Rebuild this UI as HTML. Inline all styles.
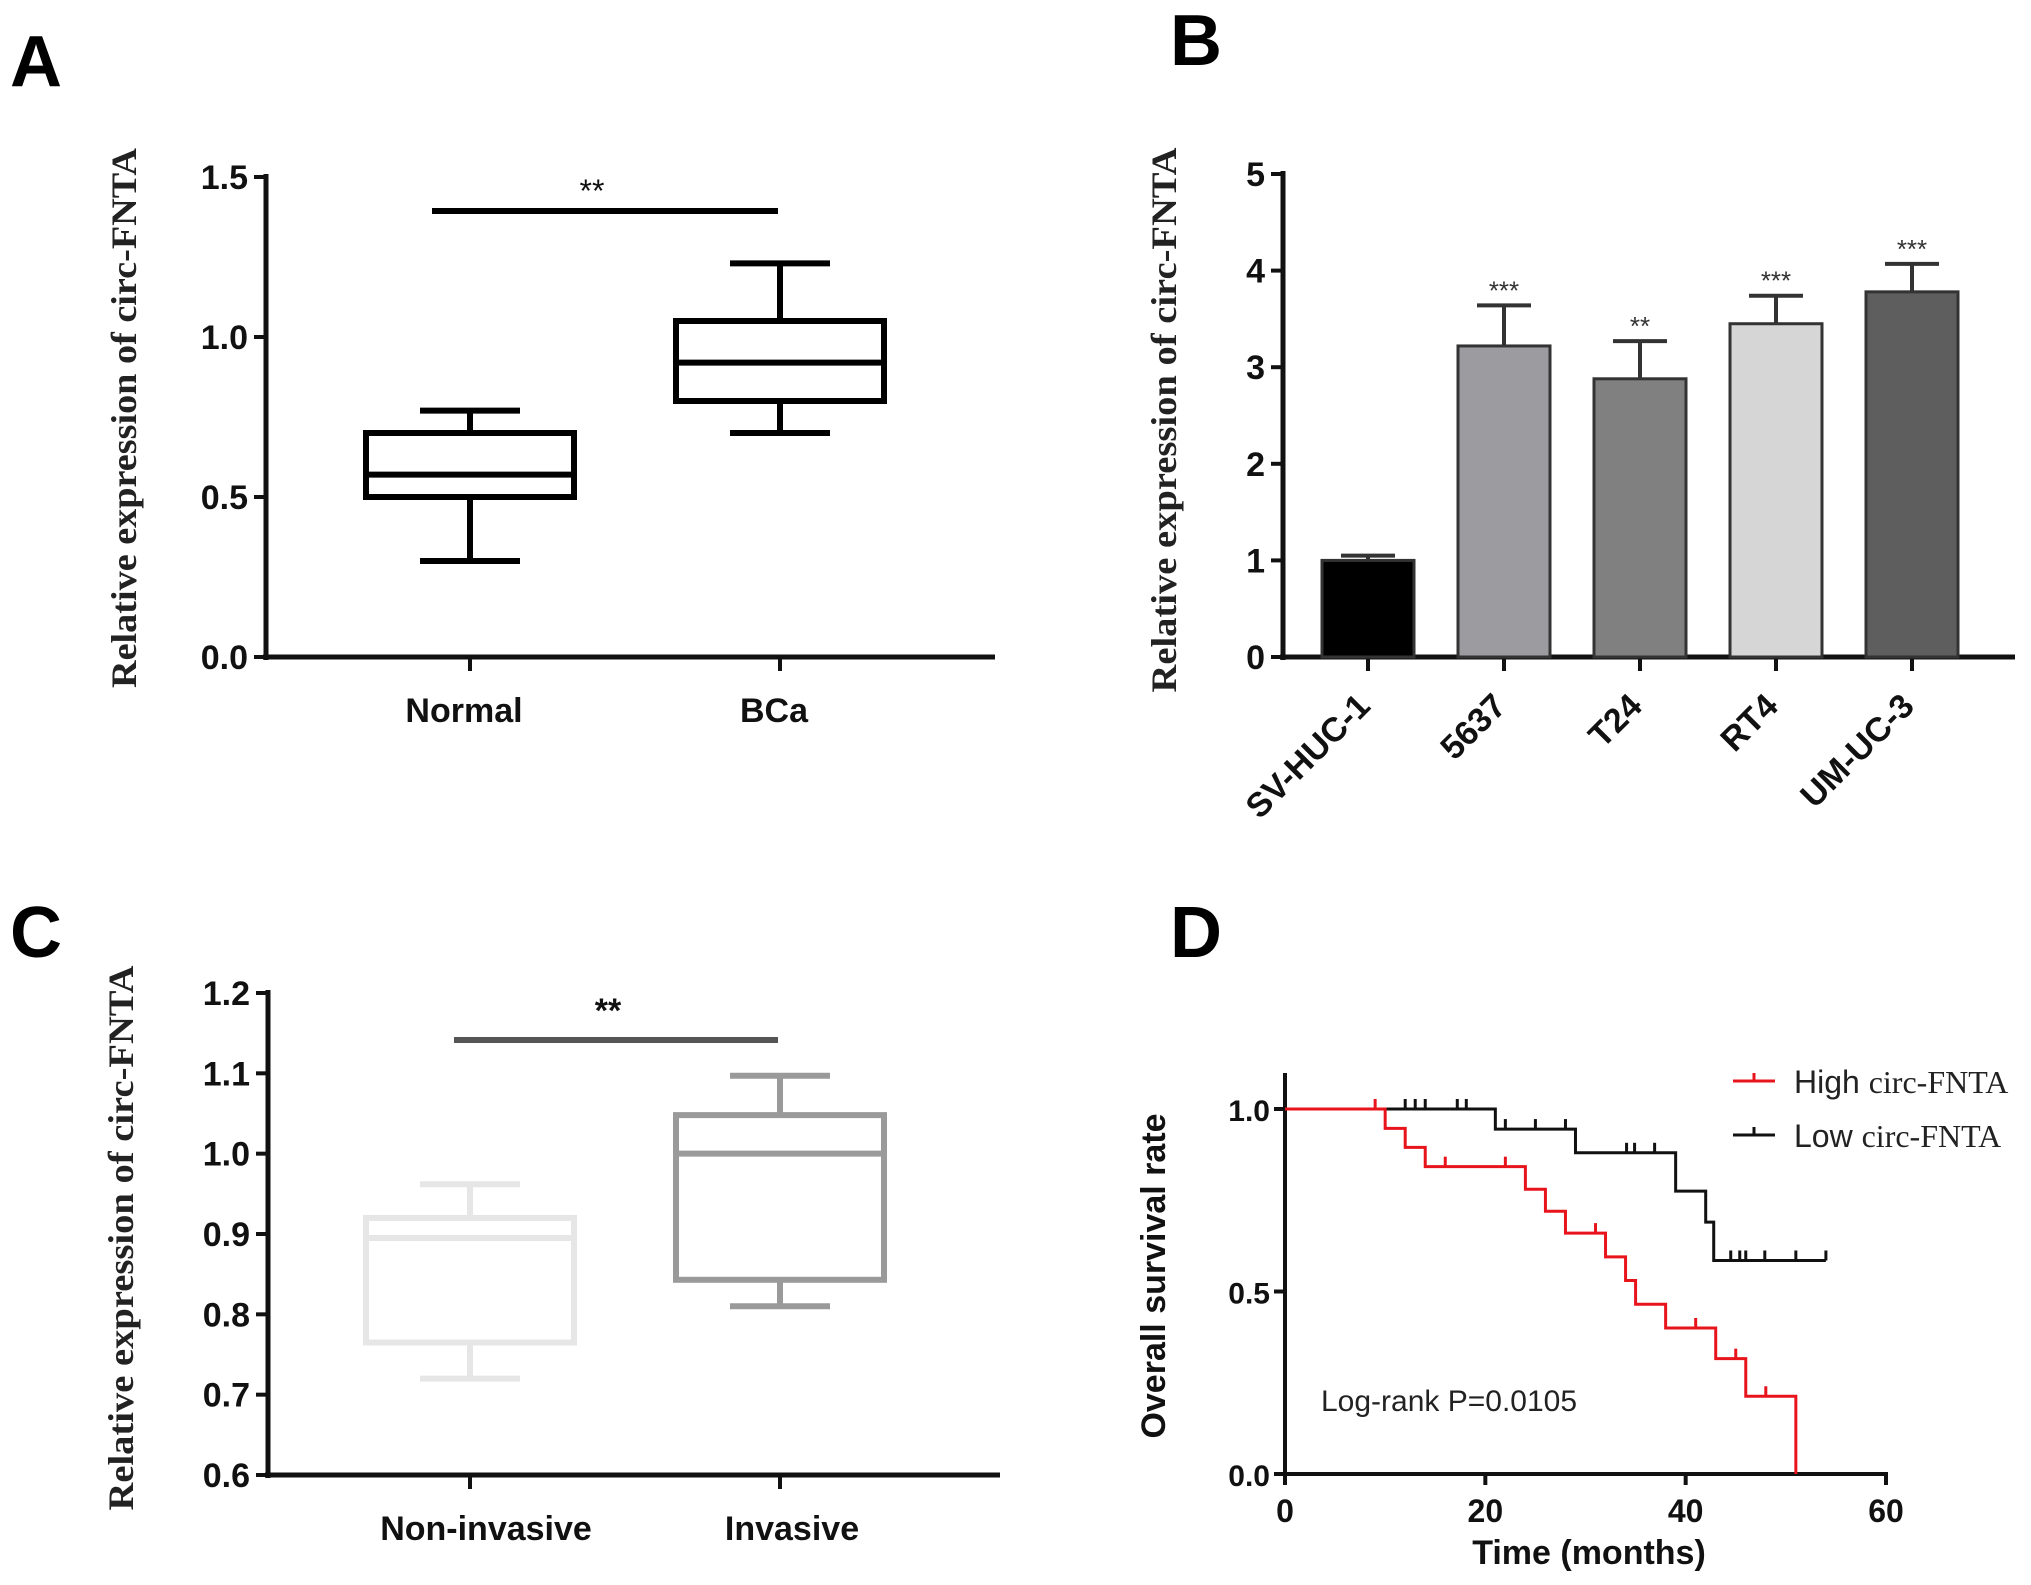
<!DOCTYPE html>
<html><head><meta charset="utf-8"><style>
html,body{margin:0;padding:0;background:#fff;}
svg{display:block;}
text{font-family:"Liberation Sans",sans-serif;}
.tick{font-size:34px;font-weight:bold;fill:#111;}
.ser{font-family:"Liberation Serif",serif;font-weight:bold;font-size:36px;fill:#222;}
.lab{font-size:72px;font-weight:bold;fill:#000;}
</style></head>
<body>
<svg id="fig" width="2031" height="1585" viewBox="0 0 2031 1585" xmlns="http://www.w3.org/2000/svg">
<text class="lab" x="10" y="86">A</text>
<text class="lab" x="1170" y="65">B</text>
<text class="lab" x="10" y="957">C</text>
<text class="lab" x="1170" y="957">D</text>
</svg>
<script>
// Panel A data
const aCats = ["Normal", "BCa"];
const aMin = [0.30, 0.70];
const aQ1 = [0.50, 0.80];
const aMed = [0.57, 0.92];
const aQ3 = [0.70, 1.05];
const aMax = [0.77, 1.23];
const aTicks = [0.0, 0.5, 1.0, 1.5];
const aTickLabels = ["0.0", "0.5", "1.0", "1.5"];
// Panel B data
const bCats = ["SV-HUC-1", "5637", "T24", "RT4", "UM-UC-3"];
const bVals = [1.0, 3.22, 2.88, 3.45, 3.78];
const bErr = [0.05, 0.42, 0.39, 0.29, 0.29];
const bStars = ["", "***", "**", "***", "***"];
const bColors = ["#000000", "#9b9ba0", "#808080", "#d6d6d6", "#5e5e5e"];
const bTicks = [0, 1, 2, 3, 4, 5];
// Panel C data
const cCats = ["Non-invasive", "Invasive"];
const cMin = [0.72, 0.81];
const cQ1 = [0.765, 0.843];
const cMed = [0.895, 1.0];
const cQ3 = [0.92, 1.048];
const cMax = [0.962, 1.097];
const cColors = ["#e6e6e6", "#9a9a9a"];
const cTicks = [0.6, 0.7, 0.8, 0.9, 1.0, 1.1, 1.2];
// Panel D data (Kaplan-Meier steps)
const highTimes = [0, 10, 12, 14, 24, 26, 28, 32, 34, 35, 38, 43, 46, 51];
const highSurv = [1.0, 0.947, 0.895, 0.842, 0.78, 0.72, 0.66, 0.595, 0.53, 0.465, 0.40, 0.316, 0.213, 0.0];
const highCensor = [9, 16, 22, 31, 41, 45, 48];
const lowTimes = [0, 21, 29, 39, 42, 42.8];
const lowSurv = [1.0, 0.945, 0.88, 0.775, 0.69, 0.585];
const lowEnd = 54;
const lowCensor = [12, 13, 14, 17.2, 18.1, 22, 25, 28, 34.1, 34.9, 36.9, 44.5, 45.4, 46, 47.9, 51, 54];
const dXTicks = [0, 20, 40, 60];
const dYTicks = [0.0, 0.5, 1.0];

const svg = document.getElementById('fig');
const NS = 'http://www.w3.org/2000/svg';
function mk(tag, attrs, text) {
  const e = document.createElementNS(NS, tag);
  for (const k in attrs) e.setAttribute(k, attrs[k]);
  if (text !== undefined) e.textContent = text;
  svg.appendChild(e);
  return e;
}
function line(x1, y1, x2, y2, stroke, w, name) {
  const e = mk('line', {x1, y1, x2, y2, stroke, 'stroke-width': w});
  
  
  return e;
}
function txt(x, y, s, cls, anchor, name, extra) {
  const e = mk('text', Object.assign({x, y, class: cls, 'text-anchor': anchor}, extra || {}), s);
  
  
  return e;
}

// ---------- Panel A ----------
const aY = v => 657 - (v - 0) / 1.5 * (657 - 177);
const aX = [470, 780];
line(266, 174, 266, 660, '#111', 5, 'a-y-axis');
line(263, 657, 995, 657, '#111', 5, 'a-x-axis');
aTicks.forEach((t, i) => {
  line(254, aY(t), 266, aY(t), '#111', 4, 'a-y-tick');
  txt(248, aY(t) + 12, aTickLabels[i], 'tick', 'end', 'a-y-tick-label');
});
aCats.forEach((c, i) => {
  const cx = aX[i], hw = 104, cw = 50, col = '#000';
  line(cx, 657, cx, 671, '#111', 4, 'a-x-tick');
  txt(cx - 6, 722, c, 'tick', 'middle', 'a-x-label');
  line(cx, aY(aMin[i]), cx, aY(aQ1[i]), col, 6, 'a-whisker-low');
  line(cx, aY(aQ3[i]), cx, aY(aMax[i]), col, 6, 'a-whisker-high');
  line(cx - cw, aY(aMin[i]), cx + cw, aY(aMin[i]), col, 6, 'a-cap-low');
  line(cx - cw, aY(aMax[i]), cx + cw, aY(aMax[i]), col, 6, 'a-cap-high');
  const r = mk('rect', {x: cx - hw, y: aY(aQ3[i]), width: 2 * hw, height: aY(aQ1[i]) - aY(aQ3[i]), fill: 'none', stroke: col, 'stroke-width': 6});
  
  
  line(cx - hw, aY(aMed[i]), cx + hw, aY(aMed[i]), col, 6, 'a-median');
});
line(432, 211, 778, 211, '#000', 6, 'a-significance-bar');
txt(592, 202, '**', 'tick', 'middle', 'a-significance-stars', {style: 'font-weight:normal;font-size:32px'});
txt(0, 0, 'Relative  expression of circ-FNTA', 'ser', 'middle', 'a-y-axis-title', {transform: 'translate(136,418) rotate(-90)', textLength: 540, lengthAdjust: 'spacingAndGlyphs'});

// ---------- Panel B ----------
const bY = v => 657 - v / 5 * (657 - 174);
const bX = i => 1368 + i * 136;
line(1283, 171, 1283, 660, '#111', 5, 'b-y-axis');
line(1280, 657, 2015, 657, '#111', 5, 'b-x-axis');
bTicks.forEach(t => {
  line(1271, bY(t), 1283, bY(t), '#111', 4, 'b-y-tick');
  txt(1265, bY(t) + 12, String(t), 'tick', 'end', 'b-y-tick-label');
});
bCats.forEach((c, i) => {
  const cx = bX(i), hw = 46;
  line(cx, 657, cx, 671, '#111', 4, 'b-x-tick');
  const top = bY(bVals[i] + bErr[i]);
  line(cx, top, cx, bY(bVals[i]), '#333', 4, 'b-error-bar');
  line(cx - 27, top, cx + 27, top, '#333', 4, 'b-error-cap');
  const r = mk('rect', {x: cx - hw, y: bY(bVals[i]), width: 2 * hw, height: 657 - bY(bVals[i]), fill: bColors[i], stroke: '#333', 'stroke-width': 3});
  
  
  if (bStars[i]) txt(cx, top - 6, bStars[i], 'tick', 'middle', 'b-significance-stars', {style: 'font-weight:normal;font-size:26px;fill:#333'});
  txt(0, 0, c, 'tick', 'end', 'b-x-label', {transform: 'translate(' + (cx + 4) + ',708) rotate(-45)'});
});
txt(0, 0, 'Relative  expression of circ-FNTA', 'ser', 'middle', 'b-y-axis-title', {transform: 'translate(1176,420) rotate(-90)', textLength: 545, lengthAdjust: 'spacingAndGlyphs'});

// ---------- Panel C ----------
const cY = v => 1475 - (v - 0.6) / 0.6 * (1475 - 993);
const cX = [470, 780];
line(268, 990, 268, 1478, '#111', 5, 'c-y-axis');
line(265, 1475, 1000, 1475, '#111', 5, 'c-x-axis');
cTicks.forEach(t => {
  line(256, cY(t), 268, cY(t), '#111', 4, 'c-y-tick');
  txt(250, cY(t) + 12, t.toFixed(1), 'tick', 'end', 'c-y-tick-label');
});
cCats.forEach((c, i) => {
  const cx = cX[i], hw = 104, cw = 50, col = cColors[i];
  line(cx, 1475, cx, 1489, '#111', 4, 'c-x-tick');
  txt(cx + (i ? 12 : 16), 1540, c, 'tick', 'middle', 'c-x-label');
  line(cx, cY(cMin[i]), cx, cY(cQ1[i]), col, 6, 'c-whisker-low');
  line(cx, cY(cQ3[i]), cx, cY(cMax[i]), col, 6, 'c-whisker-high');
  line(cx - cw, cY(cMin[i]), cx + cw, cY(cMin[i]), col, 6, 'c-cap-low');
  line(cx - cw, cY(cMax[i]), cx + cw, cY(cMax[i]), col, 6, 'c-cap-high');
  const r = mk('rect', {x: cx - hw, y: cY(cQ3[i]), width: 2 * hw, height: cY(cQ1[i]) - cY(cQ3[i]), fill: 'none', stroke: col, 'stroke-width': 6});
  
  
  line(cx - hw, cY(cMed[i]), cx + hw, cY(cMed[i]), col, 6, 'c-median');
});
line(454, 1040, 778, 1040, '#555', 6, 'c-significance-bar');
txt(608, 1022, '**', 'tick', 'middle', 'c-significance-stars', {style: 'font-size:34px'});
txt(0, 0, 'Relative  expression of circ-FNTA', 'ser', 'middle', 'c-y-axis-title', {transform: 'translate(133,1238) rotate(-90)', textLength: 545, lengthAdjust: 'spacingAndGlyphs'});

// ---------- Panel D ----------
const dX = t => 1285 + t / 60 * (1886 - 1285);
const dY = v => 1474 - v * (1474 - 1109);
line(1285, 1073, 1285, 1477, '#111', 4, 'd-y-axis');
line(1282, 1474, 1888, 1474, '#111', 4, 'd-x-axis');
dYTicks.forEach(t => {
  line(1274, dY(t), 1285, dY(t), '#111', 4, 'd-y-tick');
  txt(1270, dY(t) + 12, t.toFixed(1), 'tick', 'end', 'd-y-tick-label', {style: 'font-size:30px'});
});
dXTicks.forEach(t => {
  line(dX(t), 1474, dX(t), 1485, '#111', 4, 'd-x-tick');
  txt(dX(t), 1522, String(t), 'tick', 'middle', 'd-x-tick-label', {style: 'font-size:32px'});
});
txt(1589, 1564, 'Time (months)', 'tick', 'middle', 'd-x-axis-title');
txt(0, 0, 'Overall survival rate', 'tick', 'middle', 'd-y-axis-title', {transform: 'translate(1165,1276) rotate(-90)'});
function km(times, surv, end, color, name) {
  let d = 'M' + dX(times[0]) + ',' + dY(surv[0]);
  for (let i = 1; i < times.length; i++) {
    d += ' H' + dX(times[i]) + ' V' + dY(surv[i]);
  }
  d += ' H' + dX(end);
  const p = mk('path', {d, fill: 'none', stroke: color, 'stroke-width': 3});
  
  
}
function survAt(times, surv, t) {
  let s = surv[0];
  for (let i = 0; i < times.length; i++) if (times[i] <= t) s = surv[i];
  return s;
}
km(lowTimes, lowSurv, lowEnd, '#111', 'd-low-curve');
km(highTimes, highSurv, highTimes[highTimes.length - 1], '#e8141c', 'd-high-curve');
lowCensor.forEach(t => {
  const y = dY(survAt(lowTimes, lowSurv, t));
  line(dX(t), y, dX(t), y - 10, '#111', 3, 'd-low-censor');
});
highCensor.forEach(t => {
  const y = dY(survAt(highTimes, highSurv, t));
  line(dX(t), y, dX(t), y - 10, '#e8141c', 3, 'd-high-censor');
});
// legend
line(1733, 1081, 1775, 1081, '#e8141c', 3, 'd-legend-high-line');
line(1754, 1081, 1754, 1073, '#e8141c', 3, 'd-legend-high-tick');
line(1733, 1135, 1775, 1135, '#111', 3, 'd-legend-low-line');
line(1754, 1135, 1754, 1127, '#111', 3, 'd-legend-low-tick');
const l1 = txt(1794, 1093, '', 'tick', 'start', 'd-legend-high', {style: 'font-weight:normal;font-size:32px;fill:#222'});
l1.innerHTML = 'High <tspan style="font-family:\'Liberation Serif\',serif">circ-FNTA</tspan>';
const l2 = txt(1794, 1147, '', 'tick', 'start', 'd-legend-low', {style: 'font-weight:normal;font-size:32px;fill:#222'});
l2.innerHTML = 'Low <tspan style="font-family:\'Liberation Serif\',serif">circ-FNTA</tspan>';
txt(1321, 1411, 'Log-rank P=0.0105', 'tick', 'start', 'd-logrank-text', {style: 'font-weight:normal;font-size:30px;fill:#222'});
</script>
</body></html>
